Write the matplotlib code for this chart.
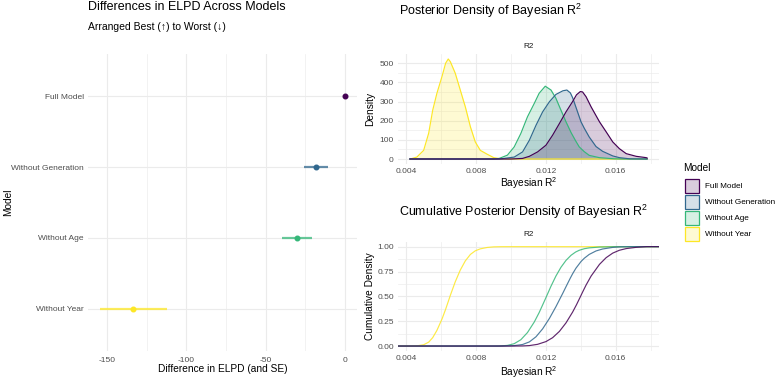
import numpy as np
import matplotlib
matplotlib.use("Agg")
import matplotlib.pyplot as plt
from matplotlib.patches import Rectangle

plt.rcParams['font.family'] = ['Liberation Sans', 'DejaVu Sans']
plt.rcParams['mathtext.fontset'] = 'custom'
plt.rcParams['mathtext.rm'] = 'Liberation Sans'
plt.rcParams['mathtext.it'] = 'Liberation Sans'
plt.rcParams['mathtext.default'] = 'regular'
plt.rcParams['axes.unicode_minus'] = False

# ---------------- data ----------------
models = ["Full Model", "Without Generation", "Without Age", "Without Year"]
colors = ["#440154", "#31688E", "#35B779", "#FDE725"]

elpd_diff = [0.0, -18.2, -30.2, -133.5]
elpd_se = [0.0, 7.8, 9.7, 21.0]

# posterior density of Bayesian R2
dens_x_full = [0.0042, 0.0100, 0.01066, 0.01105, 0.01152, 0.01200, 0.01238, 0.01277, 0.01315,
               0.01353, 0.01375, 0.01397, 0.01410, 0.01430, 0.01459, 0.01507, 0.01545, 0.01583,
               0.01621, 0.01660, 0.01717, 0.01775, 0.0178]
dens_y_full = [0, 0, 3, 14, 37, 72, 124, 185, 246, 300, 335, 352, 350, 325, 272, 194, 142, 89,
               54, 28, 14, 7, 5]

dens_x_gen = [0.0042, 0.0093, 0.00951, 0.01018, 0.01066, 0.01105, 0.01143, 0.01181, 0.01220,
              0.01257, 0.01297, 0.01320, 0.01340, 0.01353, 0.01372, 0.01401, 0.01420, 0.01448,
              0.01487, 0.01525, 0.01583, 0.01621, 0.0168, 0.0178]
dens_y_gen = [0, 0, 2, 10, 37, 98, 176, 246, 299, 337, 356, 360, 345, 320, 270, 194, 160, 115,
              65, 40, 16, 7, 1, 0]

dens_x_age = [0.0042, 0.0090, 0.00932, 0.00979, 0.01018, 0.01056, 0.01094, 0.01133, 0.01161,
              0.01196, 0.01229, 0.01257, 0.01286, 0.01315, 0.01344, 0.01370, 0.01391, 0.01420,
              0.01448, 0.01506, 0.01592, 0.0165, 0.0178]
dens_y_age = [0, 0, 3, 20, 63, 133, 220, 290, 343, 380, 360, 317, 255, 194, 138, 95, 63, 38,
              19, 7, 1, 0, 0]

dens_x_year = [0.00422, 0.00460, 0.00499, 0.00528, 0.00551, 0.00575, 0.00604, 0.00625, 0.00640,
               0.00652, 0.00680, 0.00709, 0.00738, 0.00767, 0.00795, 0.00824, 0.00863, 0.00901,
               0.00940, 0.0100, 0.0178]
dens_y_year = [0, 10, 45, 135, 255, 343, 430, 500, 522, 508, 448, 360, 272, 168, 89, 45, 25, 7,
               1, 0, 0]

dens_x = [dens_x_full, dens_x_gen, dens_x_age, dens_x_year]
dens_y = [dens_y_full, dens_y_gen, dens_y_age, dens_y_year]

elpd_ticks = [-150, -100, -50, 0]
r2_ticks = [0.004, 0.008, 0.012, 0.016]
dens_ticks = [0, 100, 200, 300, 400, 500]
cdf_ticks = [0.0, 0.25, 0.5, 0.75, 1.0]

# ---------------- layout helpers ----------------
W, H = 775, 379
fig = plt.figure(figsize=(W / 100, H / 100), dpi=100)
fig.patch.set_facecolor("white")

def rect(l, t, r, b):
    return [l / W, 1 - b / H, (r - l) / W, (b - t) / H]

def ftext(x, y, s, **kw):
    return fig.text(x / W, 1 - y / H, s, **kw)

GRID = "#EBEBEB"
TICKC = "#4D4D4D"
TITLE_FS = 9.0
AXT_FS = 7.3
TICK_FS = 6.0

def style(ax):
    for sp in ax.spines.values():
        sp.set_visible(False)
    ax.tick_params(length=0, colors=TICKC, labelsize=TICK_FS, pad=3)
    ax.grid(True, which="major", color=GRID, lw=0.8)
    ax.grid(True, which="minor", color=GRID, lw=0.45)
    ax.set_axisbelow(True)
    ax.set_facecolor("white")

# ---------------- left: ELPD differences ----------------
ax1 = fig.add_axes(rect(88, 54, 357, 351))
style(ax1)
ypos = np.arange(1, len(models) + 1)
for i in range(len(models)):
    if elpd_se[i] > 0:
        ax1.plot([elpd_diff[i] - elpd_se[i], elpd_diff[i] + elpd_se[i]], [ypos[i], ypos[i]],
                 color=colors[i], lw=1.6, alpha=0.75, solid_capstyle="butt", zorder=3)
    ax1.plot(elpd_diff[i], ypos[i], "o", color=colors[i], ms=3.3, zorder=4)
lo = min(d - s for d, s in zip(elpd_diff, elpd_se))
hi = max(d + s for d, s in zip(elpd_diff, elpd_se))
pad = 0.05 * (hi - lo)
ax1.set_xlim(lo - pad, hi + pad)
ax1.set_ylim(len(models) + 0.6, 0.4)
ax1.set_yticks(ypos)
ax1.set_yticklabels(models)
ax1.set_xticks(elpd_ticks)
ax1.set_xticks([-125, -75, -25], minor=True)
ax1.tick_params(which="minor", length=0)
ax1.grid(False, axis="y", which="minor")
ax1.tick_params(axis="x", pad=4)

ftext(88, 10, "Differences in ELPD Across Models", fontsize=TITLE_FS, va="baseline", ha="left")
ftext(88, 30.5, "Arranged Best (↑) to Worst (↓)", fontsize=7.5, va="baseline", ha="left")
ftext(222.5, 372.5, "Difference in ELPD (and SE)", fontsize=AXT_FS, va="baseline", ha="center")
ftext(8, 202.5, "Model", fontsize=AXT_FS, rotation=90, va="center", ha="center")

# ---------------- right top: density ----------------
allx = np.concatenate([np.array(v) for v in dens_x])
xmin, xmax = allx.min(), allx.max()
xpad = 0.05 * (xmax - xmin)

ax2 = fig.add_axes(rect(398, 54, 659, 164))
style(ax2)
order = [3, 2, 1, 0]
for i in order:
    ax2.fill_between(dens_x[i], dens_y[i], 0, color=colors[i], alpha=0.2, lw=0, zorder=2)
    ax2.plot(dens_x[i], dens_y[i], color=colors[i], lw=0.85, zorder=3)
ax2.set_xlim(xmin - xpad, xmax + xpad)
ymax = max(max(v) for v in dens_y)
ax2.set_ylim(-0.05 * ymax, 1.05 * ymax)
ax2.set_xticks(r2_ticks)
ax2.set_xticklabels([f"{t:.3f}" for t in r2_ticks])
ax2.set_xticks([0.006, 0.010, 0.014, 0.018], minor=True)
ax2.set_yticks(dens_ticks)
ax2.set_yticks([50, 150, 250, 350, 450], minor=True)
ax2.tick_params(which="minor", length=0)

ftext(399, 14.5, "Posterior Density of Bayesian R$^2$", fontsize=TITLE_FS, va="baseline", ha="left")
ftext(528.5, 47, "R2", fontsize=5.9, color="#1A1A1A", va="center", ha="center")
ftext(528.5, 187, "Bayesian R$^2$", fontsize=AXT_FS, va="baseline", ha="center")
ftext(370, 109, "Density", fontsize=AXT_FS, rotation=90, va="center", ha="center")

# ---------------- right bottom: cumulative ----------------
ax3 = fig.add_axes(rect(398, 241.7, 659, 351))
style(ax3)
x0, x1 = xmin - xpad, xmax + xpad
for i in order:
    xs = np.array(dens_x[i], dtype=float)
    ys = np.array(dens_y[i], dtype=float)
    cum = np.concatenate([[0.0], np.cumsum(0.5 * (ys[1:] + ys[:-1]) * np.diff(xs))])
    cum = cum / cum[-1]
    xx = np.concatenate([[x0], xs, [x1]])
    cc = np.concatenate([[0.0], cum, [1.0]])
    ax3.plot(xx, cc, color=colors[i], lw=0.85, alpha=0.85, zorder=3)
ax3.set_xlim(x0, x1)
ax3.set_ylim(-0.05, 1.05)
ax3.set_xticks(r2_ticks)
ax3.set_xticklabels([f"{t:.3f}" for t in r2_ticks])
ax3.set_xticks([0.006, 0.010, 0.014, 0.018], minor=True)
ax3.set_yticks(cdf_ticks)
ax3.set_yticklabels([f"{t:.2f}" for t in cdf_ticks])
ax3.set_yticks([0.125, 0.375, 0.625, 0.875], minor=True)
ax3.tick_params(which="minor", length=0)

ftext(399, 216, "Cumulative Posterior Density of Bayesian R$^2$", fontsize=TITLE_FS, va="baseline", ha="left")
ftext(528.5, 235, "R2", fontsize=5.9, color="#1A1A1A", va="center", ha="center")
ftext(528.5, 375.5, "Bayesian R$^2$", fontsize=AXT_FS, va="baseline", ha="center")
ftext(370, 296, "Cumulative Density", fontsize=AXT_FS, rotation=90, va="center", ha="center")

# ---------------- legend ----------------
ftext(683, 168, "Model", fontsize=AXT_FS, va="center", ha="left")
for i, m in enumerate(models):
    yc = 186 + 16 * i
    for fc, a in [("white", 1.0), (colors[i], 0.2)]:
        fig.patches.append(Rectangle((684.5 / W, 1 - (yc + 7) / H), 14 / W, 14 / H,
                                     transform=fig.transFigure, facecolor=fc, alpha=a,
                                     edgecolor="none", figure=fig))
    fig.patches.append(Rectangle((684.5 / W, 1 - (yc + 7) / H), 14 / W, 14 / H,
                                 transform=fig.transFigure, facecolor="none",
                                 edgecolor=colors[i], lw=0.9, figure=fig))
    ftext(705, yc, m, fontsize=5.9, va="center", ha="left")

fig.savefig("out.png", dpi=100)
